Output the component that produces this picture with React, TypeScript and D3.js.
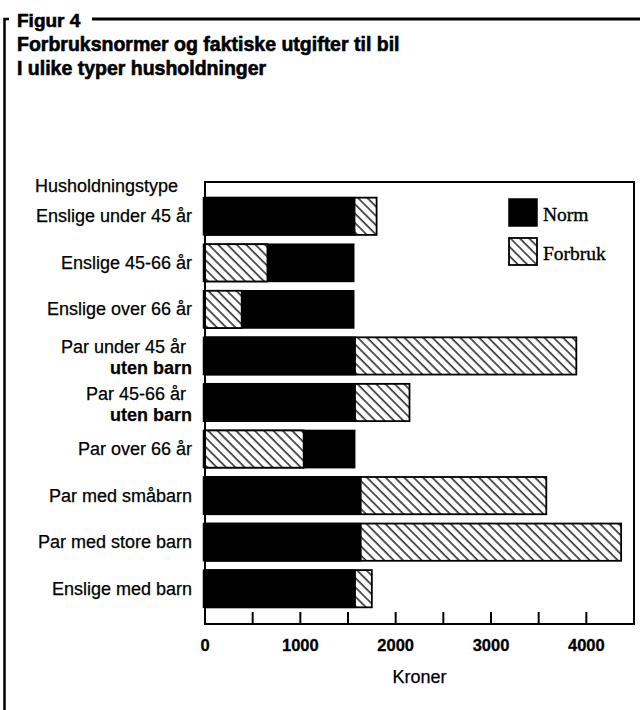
import React from "react";
import * as d3 from "d3";

const categories: string[][] = [
  ["Enslige under 45 år"],
  ["Enslige 45-66 år"],
  ["Enslige over 66 år"],
  ["Par under 45 år", "uten barn"],
  ["Par 45-66 år", "uten barn"],
  ["Par over 66 år"],
  ["Par med småbarn"],
  ["Par med store barn"],
  ["Enslige med barn"],
];
const normValues = [1570, 1560, 1560, 1575, 1575, 1570, 1635, 1635, 1575];
const forbrukValues = [1800, 655, 385, 3895, 2145, 1035, 3580, 4365, 1750];
const xTicks = [0, 500, 1000, 1500, 2000, 2500, 3000, 3500, 4000];
const xTickLabels = [0, 1000, 2000, 3000, 4000];
const seriesNames = ["Norm", "Forbruk"];
const titleLines = ["Figur 4", "Forbruksnormer og faktiske utgifter til bil", "I ulike typer husholdninger"];
const yHeading = "Husholdningstype";
const xLabel = "Kroner";

const SANS = "'Liberation Sans', Arial, Helvetica, sans-serif";
const SERIF = "'Liberation Serif', 'Times New Roman', serif";

export default function App() {
  const left = 205, right = 634, top = 182, bottom = 624;
  const x = d3.scaleLinear().domain([0, 4500]).range([left, right]);
  const y = d3
    .scaleBand<number>()
    .domain(categories.map((_, i) => i))
    .range([193, 612])
    .paddingInner(0.2)
    .paddingOuter(0.1);
  const bw = y.bandwidth();

  const labelStyle = {
    fontFamily: SANS,
    fontSize: 18,
    stroke: "#000",
    strokeWidth: 0.25,
  } as const;

  return (
    <svg
      width={640}
      height={710}
      style={{ position: "absolute", left: 0, top: 0, background: "#fff" }}
    >
      <defs>
        <pattern
          id="hatch"
          patternUnits="userSpaceOnUse"
          width={6.6}
          height={6.6}
          patternTransform="rotate(-45)"
        >
          <rect width={6.6} height={6.6} fill="#fff" />
          <line x1={1} y1={-1} x2={1} y2={8} stroke="#000" strokeWidth={1.3} />
        </pattern>
      </defs>

      {/* bracket and title rule */}
      <path d="M9,19 H4.5 V710" fill="none" stroke="#000" strokeWidth={2.5} />
      <line x1={92} x2={640} y1={19} y2={19} stroke="#000" strokeWidth={3} />

      <g fontFamily={SANS} fontWeight="bold" stroke="#000" strokeWidth={0.6}>
        <text x={17} y={27} fontSize={19}>
          {titleLines[0]}
        </text>
        <text x={17} y={51} fontSize={19.5}>
          {titleLines[1]}
        </text>
        <text x={17} y={75} fontSize={19.5}>
          {titleLines[2]}
        </text>
      </g>

      <text x={35} y={192} {...labelStyle}>
        {yHeading}
      </text>

      {/* bars */}
      {categories.map((_, i) => {
        const n = normValues[i];
        const f = forbrukValues[i];
        const y0 = y(i)!;
        const normRect = (
          <rect
            key="n"
            x={x(0) - 1.5}
            y={y0}
            width={x(n) - x(0) + 1.5}
            height={bw}
            fill="#000"
            stroke="#000"
            strokeWidth={1.5}
          />
        );
        const fRect = (
          <rect
            key="f"
            x={x(0)}
            y={y0}
            width={x(f) - x(0)}
            height={bw}
            fill="url(#hatch)"
            stroke="#000"
            strokeWidth={1.8}
          />
        );
        return (
          <g key={i}>{f > n ? [fRect, normRect] : [normRect, fRect]}</g>
        );
      })}

      {/* frame */}
      <rect
        x={left}
        y={top}
        width={right - left}
        height={bottom - top}
        fill="none"
        stroke="#000"
        strokeWidth={2}
      />

      {/* ticks */}
      {xTicks.map((t) => (
        <line
          key={t}
          x1={x(t)}
          x2={x(t)}
          y1={bottom}
          y2={bottom - 12}
          stroke="#000"
          strokeWidth={2}
        />
      ))}
      {xTickLabels.map((t) => (
        <text
          key={t}
          x={x(t)}
          y={651}
          textAnchor="middle"
          fontFamily={SANS}
          fontWeight="bold"
          fontSize={16.5}
          stroke="#000"
          strokeWidth={0.3}
        >
          {t}
        </text>
      ))}
      <text x={(left + right) / 2} y={683} textAnchor="middle" {...labelStyle}>
        {xLabel}
      </text>

      {/* category labels */}
      {categories.map((lines, i) => {
        const c = y(i)! + bw / 2;
        if (lines.length === 1) {
          return (
            <text key={i} x={192} y={c + 6} textAnchor="end" {...labelStyle}>
              {lines[0]}
            </text>
          );
        }
        return (
          <g key={i}>
            <text x={186} y={c - 3} textAnchor="end" {...labelStyle}>
              {lines[0]}
            </text>
            <text x={192} y={c + 18} textAnchor="end" {...labelStyle} fontWeight="bold">
              {lines[1]}
            </text>
          </g>
        );
      })}

      {/* legend */}
      <rect x={509} y={199} width={28} height={27} fill="#000" stroke="#000" strokeWidth={1.5} />
      <rect x={509} y={238} width={28} height={27} fill="url(#hatch)" stroke="#000" strokeWidth={1.8} />
      <g fontFamily={SERIF} fontSize={19.5} stroke="#000" strokeWidth={0.35}>
        <text x={543} y={221}>
          {seriesNames[0]}
        </text>
        <text x={543} y={260}>
          {seriesNames[1]}
        </text>
      </g>
    </svg>
  );
}
